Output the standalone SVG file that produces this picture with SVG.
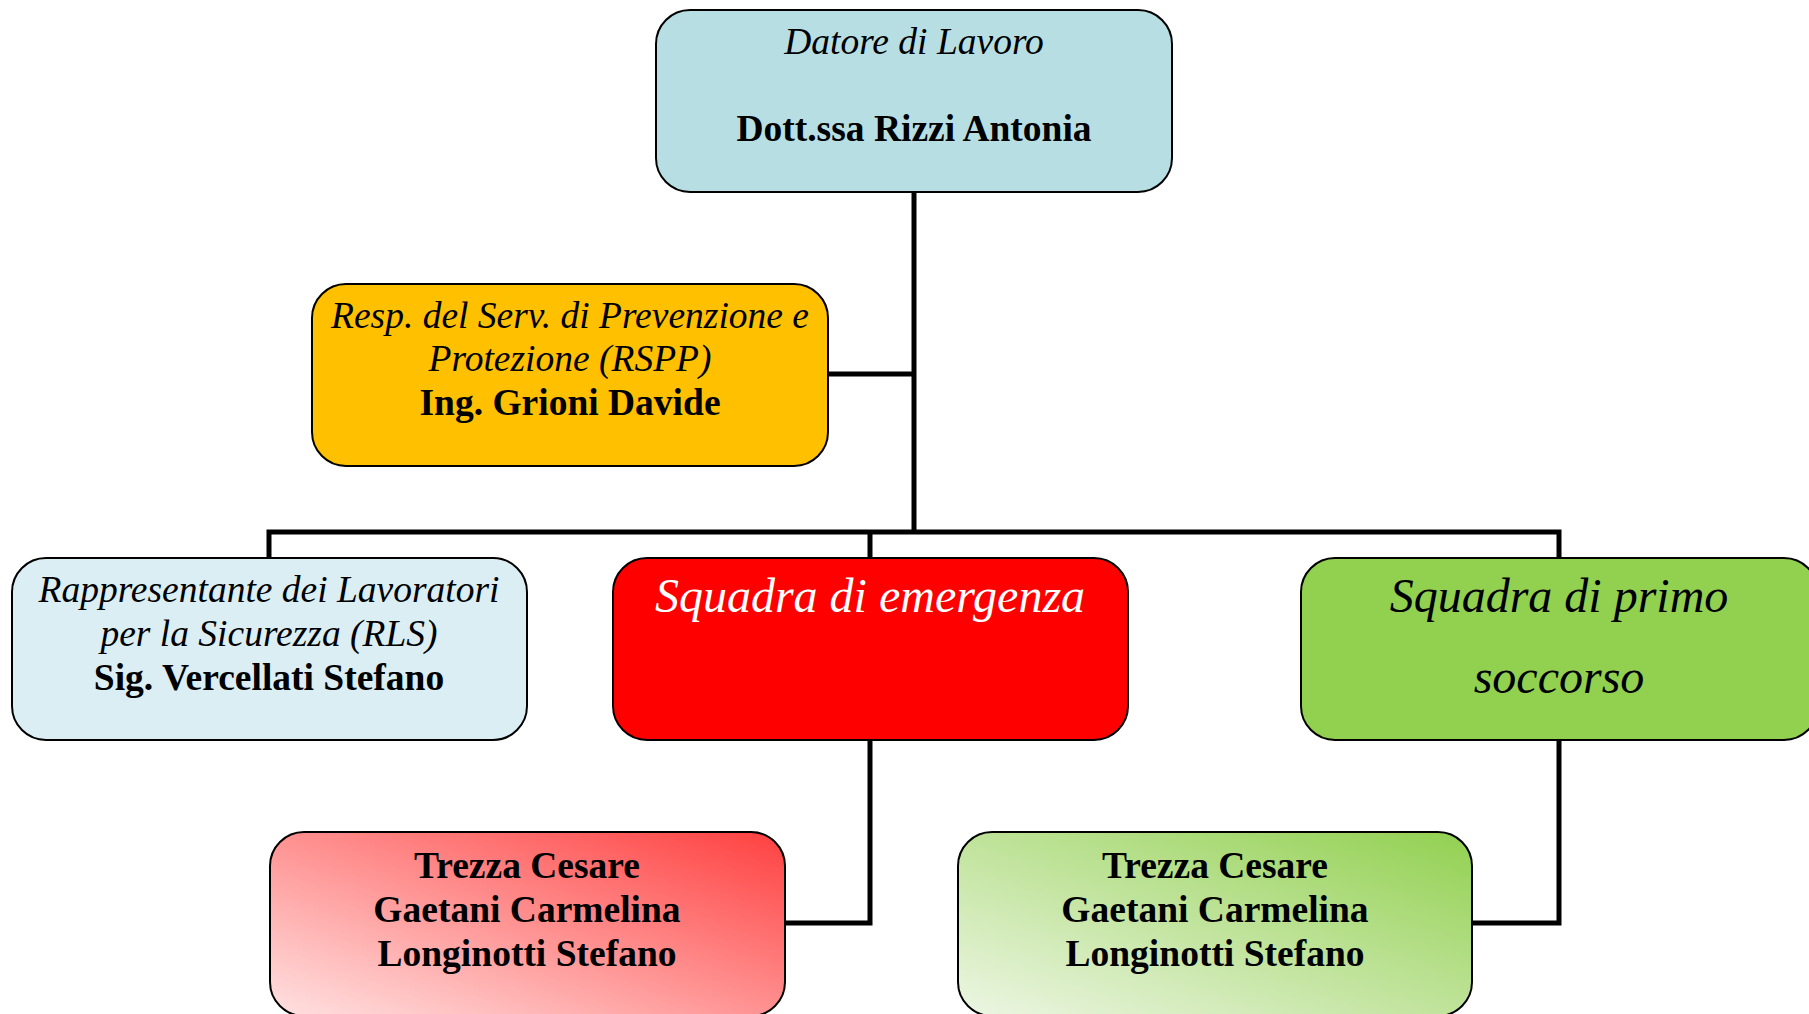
<svg xmlns="http://www.w3.org/2000/svg" width="1809" height="1014" viewBox="0 0 1809 1014">
<style>
.box{stroke:#000;stroke-width:2}
.it{font-family:"Liberation Serif",serif;font-style:italic;text-anchor:middle;font-size:37.5px}
.bd{font-family:"Liberation Serif",serif;font-weight:bold;text-anchor:middle;font-size:37.5px}
.big{font-size:48px}
.con{fill:none;stroke:#000;stroke-width:5}
</style>
<defs>
<linearGradient id="gr" x1="0" y1="1" x2="1" y2="0">
<stop offset="0" stop-color="#FFE2E2"/>
<stop offset="1" stop-color="#FF4040"/>
</linearGradient>
<linearGradient id="gg" x1="0" y1="1" x2="1" y2="0">
<stop offset="0" stop-color="#EDF6E4"/>
<stop offset="1" stop-color="#92D050"/>
</linearGradient>
</defs>
<rect width="1809" height="1014" fill="#fff"/>
<g id="connectors">
<path class="con" d="M914 192V532"/>
<path class="con" d="M828 374H914"/>
<path class="con" d="M269 558V532H1559V558"/>
<path class="con" d="M870 532V558"/>
<path class="con" d="M870 740V923H785"/>
<path class="con" d="M1559 740V923H1472"/>
</g>
<g id="datore">
<rect class="box" x="656" y="10" width="516" height="182" rx="34" fill="#B7DFE3"/>
<text class="it" x="914" y="54">Datore di Lavoro</text>
<text class="bd" x="914" y="141">Dott.ssa Rizzi Antonia</text>
</g>
<g id="rspp">
<rect class="box" x="312" y="284" width="516" height="182" rx="34" fill="#FFC000"/>
<text class="it" x="570" y="328">Resp. del Serv. di Prevenzione e</text>
<text class="it" x="570" y="371">Protezione (RSPP)</text>
<text class="bd" x="570" y="415">Ing. Grioni Davide</text>
</g>
<g id="rls">
<rect class="box" x="12" y="558" width="515" height="182" rx="34" fill="#DAEEF3"/>
<text class="it" x="269" y="602">Rappresentante dei Lavoratori</text>
<text class="it" x="269" y="646">per la Sicurezza (RLS)</text>
<text class="bd" x="269" y="690">Sig. Vercellati Stefano</text>
</g>
<g id="emergenza">
<rect class="box" x="613" y="558" width="515" height="182" rx="34" fill="#FF0000"/>
<text class="it big" x="870" y="612" fill="#fff">Squadra di emergenza</text>
</g>
<g id="primo">
<rect class="box" x="1301" y="558" width="517" height="182" rx="34" fill="#92D050"/>
<text class="it big" x="1559" y="612">Squadra di primo</text>
<text class="it big" x="1559" y="693">soccorso</text>
</g>
<g id="emergenza-membri">
<rect class="box" x="270" y="832" width="515" height="184" rx="34" fill="url(#gr)"/>
<text class="bd" x="527" y="878">Trezza Cesare</text>
<text class="bd" x="527" y="922">Gaetani Carmelina</text>
<text class="bd" x="527" y="966">Longinotti Stefano</text>
</g>
<g id="primo-membri">
<rect class="box" x="958" y="832" width="514" height="184" rx="34" fill="url(#gg)"/>
<text class="bd" x="1215" y="878">Trezza Cesare</text>
<text class="bd" x="1215" y="922">Gaetani Carmelina</text>
<text class="bd" x="1215" y="966">Longinotti Stefano</text>
</g>
</svg>
